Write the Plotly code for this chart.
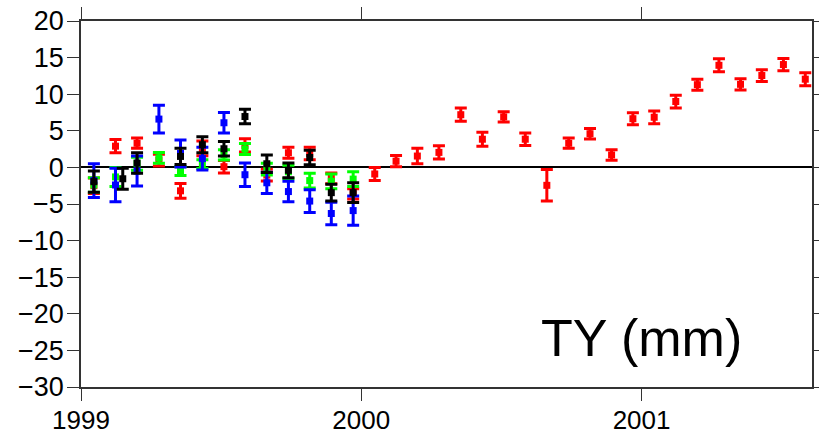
import plotly.graph_objects as go

# decimal-year epochs (4-weekly)
t_all = [1999.046, 1999.123, 1999.200, 1999.278, 1999.355, 1999.433, 1999.510,
         1999.585, 1999.663, 1999.740, 1999.816, 1999.893, 1999.971, 2000.048,
         2000.124, 2000.200, 2000.277, 2000.355, 2000.432, 2000.508, 2000.585,
         2000.662, 2000.740, 2000.816, 2000.893, 2000.969, 2001.045, 2001.122,
         2001.199, 2001.276, 2001.353, 2001.429, 2001.506, 2001.584]

red_y = [-2.5, 2.9, 3.3, 1.0, -3.2, 2.6, 0.1, 3.0, -1.05, 2.0, 1.9, -1.5, -3.6,
         -0.9, 0.85, 1.55, 2.05, 7.2, 3.85, 6.9, 3.85, -2.45, 3.3, 4.6, 1.7,
         6.65, 6.85, 9.0, 11.3, 13.95, 11.35, 12.55, 14.05, 12.05]
red_e = [1.05, 0.9, 0.7, 0.8, 1.0, 1.0, 0.85, 0.9, 0.8, 0.75, 0.85, 0.75, 0.7,
         0.9, 0.77, 1.05, 0.9, 0.9, 0.95, 0.7, 0.85, 2.15, 0.7, 0.72, 0.72,
         0.82, 0.87, 0.87, 0.75, 0.9, 0.77, 0.8, 0.84, 0.89]

t_early = t_all[:13]
green_y = [-2.4, -1.3, 0.5, 1.3, -0.5, 0.45, 1.7, 2.5, -0.25, -0.6, -1.8, -1.9, -1.6]
green_e = [1.0, 1.3, 0.9, 0.75, 0.6, 0.6, 0.7, 0.75, 0.8, 0.9, 1.0, 1.0, 1.0]

blue_y = [-1.8, -2.4, -0.5, 6.6, 1.9, 1.2, 6.1, -1.0, -2.1, -3.3, -4.6, -6.3, -5.9]
blue_e = [2.3, 2.3, 2.05, 1.9, 1.85, 1.55, 1.4, 1.6, 1.45, 1.4, 1.55, 1.55, 2.0]

t_black = [1999.046, 1999.149, 1999.200, 1999.355, 1999.433, 1999.510, 1999.585,
           1999.663, 1999.740, 1999.816, 1999.893, 1999.971]
black_y = [-1.95, -1.55, 0.6, 1.5, 3.1, 2.55, 6.95, 0.5, -0.4, 1.35, -3.45, -3.45]
black_e = [1.45, 1.45, 1.4, 1.1, 1.1, 1.0, 1.0, 1.2, 1.0, 1.0, 1.15, 1.35]

x_ticks = [1999, 2000, 2001]
x_ticklabels = ["1999", "2000", "2001"]
y_ticks = [20, 15, 10, 5, 0, -5, -10, -15, -20, -25, -30]

fig = go.Figure()

def add(x, y, e, color):
    fig.add_trace(go.Scatter(
        x=x, y=y, mode="markers",
        marker=dict(symbol="square", size=7, color=color, line=dict(width=0)),
        error_y=dict(type="data", array=e, visible=True, color=color,
                     thickness=3, width=6),
        showlegend=False, hoverinfo="skip"))

add(t_all, red_y, red_e, "#ff0000")
add(t_early, green_y, green_e, "#00ff00")
add(t_early, blue_y, blue_e, "#0000ff")
add(t_black, black_y, black_e, "#000000")

fig.add_annotation(x=0.907, y=0.135, xref="paper", yref="paper",
                   text="TY (mm)", showarrow=False, xanchor="right",
                   yanchor="middle",
                   font=dict(family="Liberation Sans, Arial", size=52, color="black"))

axis_common = dict(showgrid=False, showline=True, linecolor="#333333",
                   linewidth=1.5, ticks="outside", ticklen=12, tickwidth=1,
                   tickcolor="#333333", mirror="ticks", automargin=False)

fig.update_layout(
    width=819, height=437,
    margin=dict(l=81, r=7, t=21, b=50),
    plot_bgcolor="white", paper_bgcolor="white",
    xaxis=dict(range=[1999, 2001.608], tickvals=x_ticks, ticktext=x_ticklabels,
               zeroline=False, ticklabelstandoff=-3,
               tickfont=dict(family="Liberation Sans, Arial", size=26, color="black"),
               **axis_common),
    yaxis=dict(range=[-30, 20], tickvals=y_ticks, zeroline=True,
               ticklabelstandoff=-2,
               tickfont=dict(family="Liberation Sans, Arial", size=27, color="black"),
               zerolinecolor="black", zerolinewidth=1.5, **axis_common),
)

fig.write_html("out.html")
